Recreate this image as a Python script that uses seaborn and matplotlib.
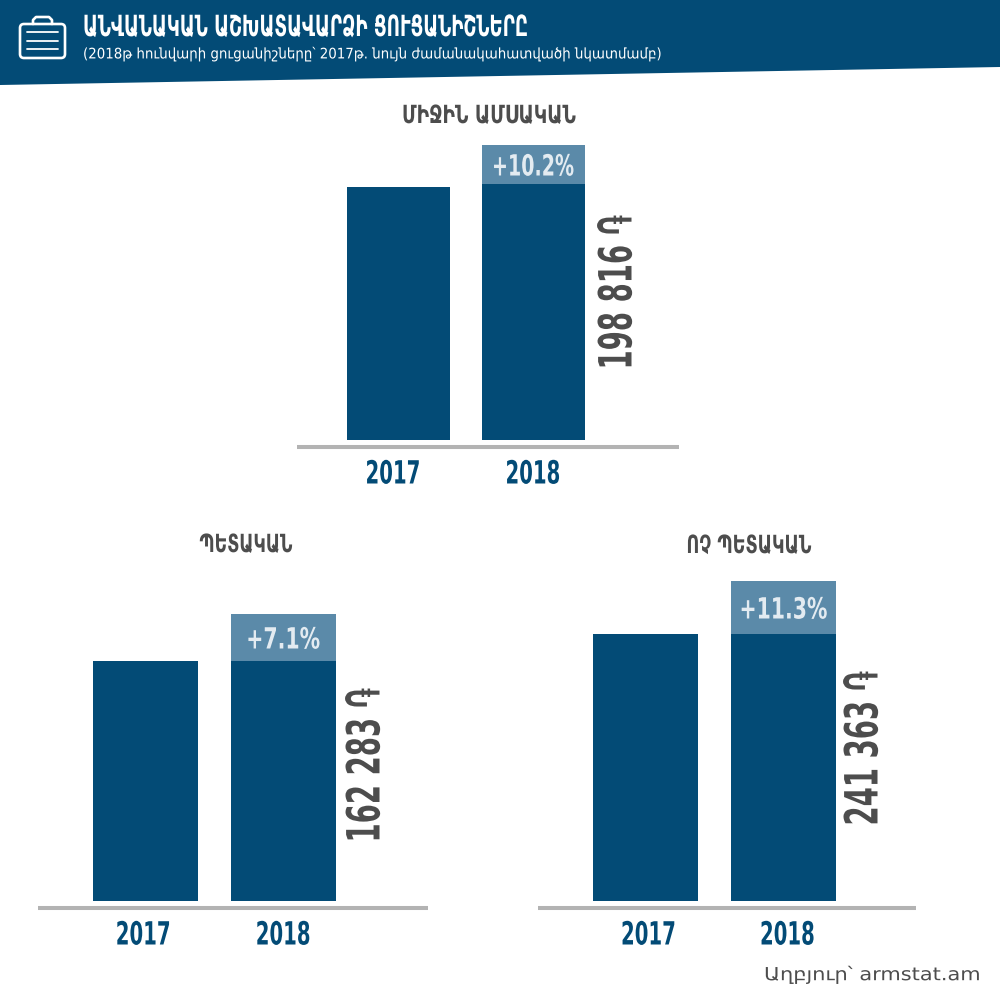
import matplotlib
matplotlib.use("Agg")
import matplotlib.pyplot as plt
import matplotlib.patheffects as pe
from matplotlib.patches import FancyBboxPatch, Polygon
from matplotlib.transforms import Affine2D
import seaborn as sns

NAVY = "#034b76"
LIGHT = "#5b8aa9"
GRAY = "#4d4d4d"
RULE = "#b3b3b3"

years = ["2017", "2018"]

# bar heights, they are not to scale with the dram values
avg_bars = [253, 256]
avg_totals = [253, 295]
state_bars = [240, 240]
state_totals = [240, 287]
private_bars = [267, 267]
private_totals = [267, 320]

pct_labels = ["+10.2%", "+7.1%", "+11.3%"]
value_labels = ["198 816 ֏", "162 283 ֏", "241 363 ֏"]
section_titles = ["ՄԻՋԻՆ ԱՄՍԱԿԱՆ", "ՊԵՏԱԿԱՆ", "ՈՉ ՊԵՏԱԿԱՆ"]

title = "ԱՆՎԱՆԱԿԱՆ ԱՇԽԱՏԱՎԱՐՁԻ ՑՈՒՑԱՆԻՇՆԵՐԸ"
subtitle = "(2018թ հունվարի ցուցանիշները՝ 2017թ. նույն ժամանակահատվածի նկատմամբ)"
source = "Աղբյուր՝ armstat.am"


class Squeeze(pe.AbstractPathEffect):
    """Narrow a text around its anchor, the condensed face is not installed."""

    def __init__(self, sx, sy, cx, cy):
        self.sx, self.sy, self.cx, self.cy = sx, sy, cx, cy

    def draw_path(self, renderer, gc, tpath, affine, rgbFace=None):
        squeeze = Affine2D().translate(-self.cx, -self.cy).scale(self.sx, self.sy).translate(self.cx, self.cy)
        renderer.draw_path(gc, tpath, affine + squeeze, rgbFace)


def fit_length(txt, length, renderer):
    # length = wanted size in pixels along the reading direction
    box = txt.get_window_extent(renderer)
    cx, cy = (box.x0 + box.x1) / 2, (box.y0 + box.y1) / 2
    if txt.get_ha() == "left":
        cx = box.x0
    if txt.get_rotation() == 90:
        txt.set_path_effects([Squeeze(1, length / box.height, cx, cy)])
    else:
        txt.set_path_effects([Squeeze(length / box.width, 1, cx, cy)])


def bar_panel(fig, x0, x1, base_y, bar_left, step, bar_w, bars, totals, pct, label_shift):
    # 1 data unit = 1 pixel on y, unit of x = distance between the two bars
    gap, top = 7, 330
    ax = fig.add_axes([x0 / 1000, 1 - (base_y + gap) / 1000, (x1 - x0) / 1000, (top + gap) / 1000])
    sns.barplot(x=years, y=totals, color=LIGHT, saturation=1, width=bar_w / step, linewidth=0, ax=ax)
    sns.barplot(x=years, y=bars, color=NAVY, saturation=1, width=bar_w / step, linewidth=0, ax=ax)
    center = bar_left + bar_w / 2
    ax.set_xlim((x0 - center) / step, (x1 - center) / step)
    ax.set_ylim(-gap, top)
    ax.patch.set_alpha(0)
    sns.despine(ax=ax, left=True)
    ax.spines["bottom"].set_color(RULE)
    ax.spines["bottom"].set_linewidth(2.9)
    ax.spines["bottom"].set_capstyle("butt")
    ax.set_yticks([])
    ax.set_xticks([label_shift[0] / step, 1 + label_shift[1] / step], years)
    ax.tick_params(axis="x", length=0, pad=9, labelcolor=NAVY)
    for lab in ax.get_xticklabels():
        lab.set_fontsize(23)
        lab.set_fontweight("bold")
    ax.set_xlabel("")
    ax.set_ylabel("")
    pct_txt = ax.text(1, (bars[1] + totals[1]) / 2, pct, color="#e3ebf1", fontsize=21,
                      fontweight="bold", ha="center", va="center_baseline")
    return ax, pct_txt


sns.set_theme(style="white")
plt.rcParams["font.family"] = ["DejaVu Sans", "FreeSans", "Noto Sans Armenian"]

fig = plt.figure(figsize=(10, 10), dpi=100, facecolor="white")

ax1, pct1 = bar_panel(fig, 297, 679, 440, 346.5, 135, 103, avg_bars, avg_totals, pct_labels[0], (-5, 0))
ax2, pct2 = bar_panel(fig, 38, 428, 901, 93, 138, 104.5, state_bars, state_totals, pct_labels[1], (-2, 0))
ax3, pct3 = bar_panel(fig, 538, 916, 901, 593, 138, 105, private_bars, private_totals, pct_labels[2], (3, 4))

# full page layer for the header and free text, in image pixels
page = fig.add_axes([0, 0, 1, 1], zorder=5)
page.set_xlim(0, 1000)
page.set_ylim(1000, 0)
page.axis("off")
page.patch.set_alpha(0)

page.add_patch(Polygon([(0, 0), (1000, 0), (1000, 67), (0, 85)], closed=True, color=NAVY, lw=0))

# briefcase icon
page.add_patch(FancyBboxPatch((20, 24), 45, 34, boxstyle="round,pad=0,rounding_size=4",
                              fc="none", ec="white", lw=1.9))
page.plot([33, 33, 36, 49, 52, 52], [24, 20, 17, 17, 20, 24], color="white", lw=1.9)
for y in [32, 41, 49]:
    page.plot([27, 58], [y, y], color="white", lw=1.3)

title_txt = page.text(83, 28, title, color="white", fontsize=21, fontweight="bold", ha="left", va="center")
sub_txt = page.text(83, 54, subtitle, color="white", fontsize=10.5, ha="left", va="center")

sec1 = page.text(489, 116, section_titles[0], color=GRAY, fontsize=18, fontweight="bold", ha="center", va="center")
sec2 = page.text(246, 545, section_titles[1], color=GRAY, fontsize=18, fontweight="bold", ha="center", va="center")
sec3 = page.text(749, 546, section_titles[2], color=GRAY, fontsize=18, fontweight="bold", ha="center", va="center")

val_kw = dict(color=GRAY, fontsize=33, fontweight="bold", rotation=90, ha="center", va="center")
val1 = page.text(619, 292, value_labels[0], **val_kw)
val2 = page.text(367, 765, value_labels[1], **val_kw)
val3 = page.text(865, 748, value_labels[2], **val_kw)

src_txt = page.text(872, 975, source, color=GRAY, fontsize=13, ha="center", va="center")

# squeeze everything to the widths measured on the reference
fig.canvas.draw()
rend = fig.canvas.get_renderer()
fit_length(title_txt, 445, rend)
fit_length(sub_txt, 580, rend)
fit_length(sec1, 174, rend)
fit_length(sec2, 93, rend)
fit_length(sec3, 125, rend)
fit_length(val1, 155, rend)
fit_length(val2, 155, rend)
fit_length(val3, 155, rend)
fit_length(src_txt, 216, rend)
for txt, w in [(pct1, 82), (pct2, 74), (pct3, 88)]:
    fit_length(txt, w, rend)
for ax in [ax1, ax2, ax3]:
    for lab in ax.get_xticklabels():
        fit_length(lab, 55, rend)

fig.savefig("out.png", dpi=100)
plt.close(fig)
